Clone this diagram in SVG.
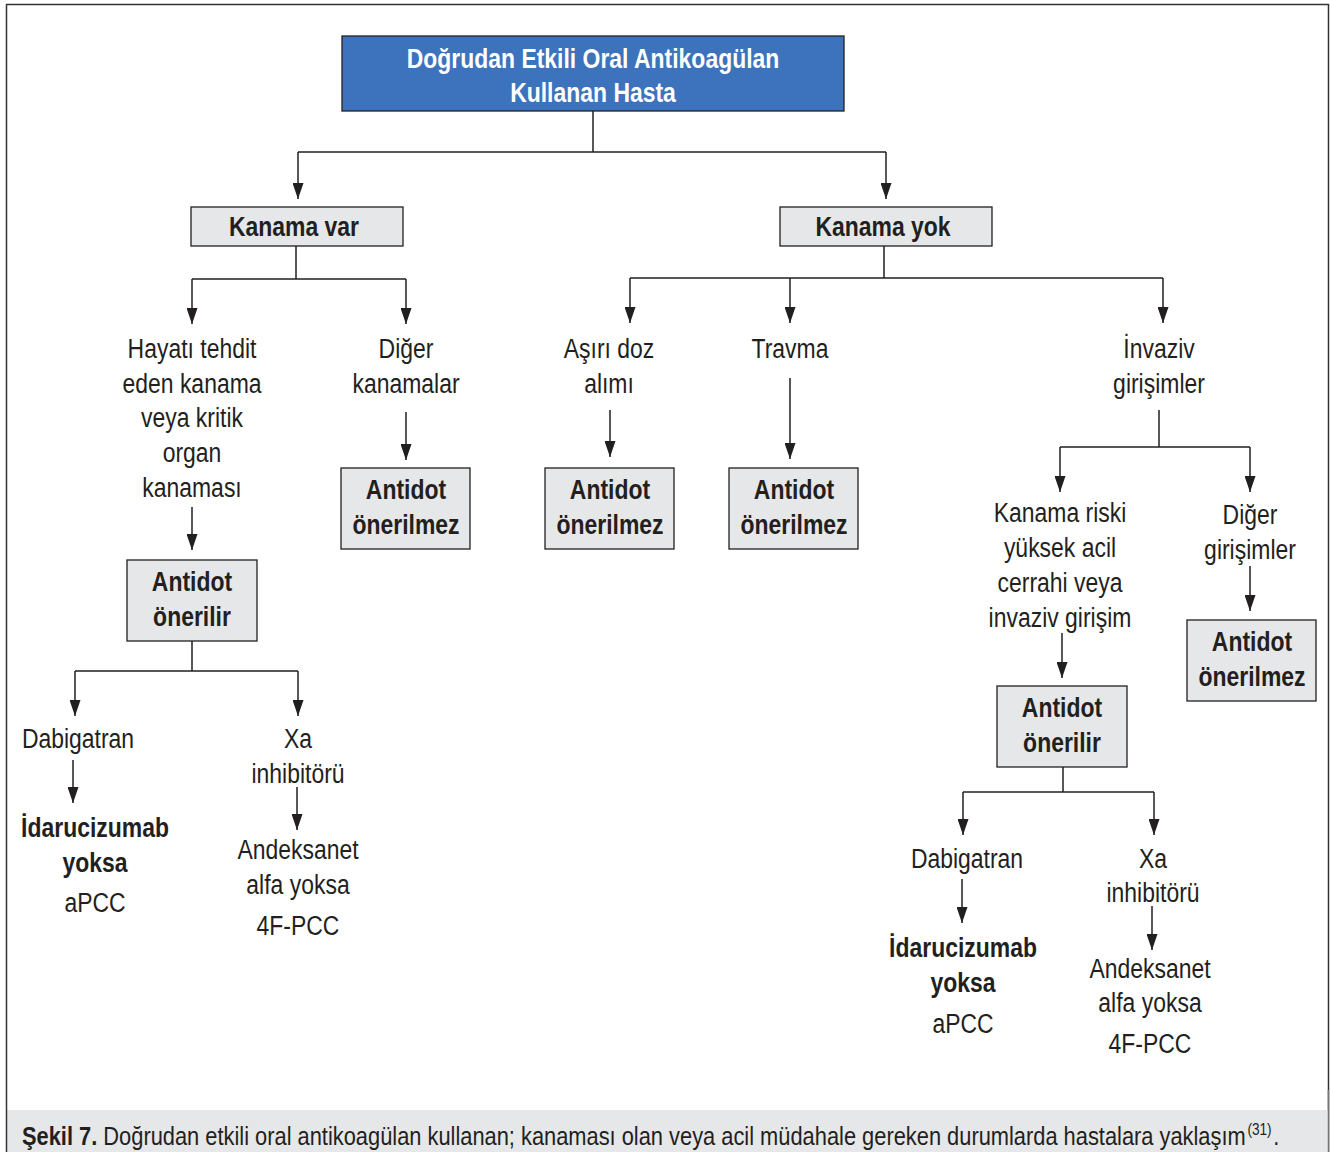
<svg xmlns="http://www.w3.org/2000/svg" width="1330" height="1152" viewBox="0 0 1330 1152">
<style>
.t{font-family:"Liberation Sans Narrow","Arial Narrow","Liberation Sans",Arial,sans-serif;fill:#231f20;text-anchor:middle}
.n{font-size:27px}
.b{font-size:27px;font-weight:bold}
.w{fill:#ffffff;font-size:27px;font-weight:bold}
.box{fill:#e6e7e8;stroke:#231f20;stroke-width:1.3}
.c{fill:none;stroke:#231f20;stroke-width:1.5}
.a{fill:none;stroke:#231f20;stroke-width:1.5;marker-end:url(#arr)}
</style>
<defs>
<marker id="arr" viewBox="0 0 16 11" refX="16" refY="5.5" markerWidth="16" markerHeight="11" markerUnits="userSpaceOnUse" orient="auto">
<path d="M0,0 L16,5.5 L0,11 z" fill="#231f20"/>
</marker>
</defs>
<rect x="0" y="0" width="1330" height="1152" fill="#ffffff"/>
<g id="frame">
<path d="M6.5,1110 V4.5 H1328.5 V1152" fill="none" stroke="#333333" stroke-width="1.5"/>
<rect x="6" y="1110" width="1322" height="42" fill="#e6e7e8"/>
<path d="M6.5,1110 V1152" stroke="#333333" stroke-width="1.5"/>
<path d="M1328.5,1090 V1152" stroke="#777777" stroke-width="1.5"/>
</g>
<g id="connectors">
<path class="c" d="M593,111 V152 M298,152 H886"/>
<path class="a" d="M298,152 V199"/>
<path class="a" d="M886,152 V199"/>
<path class="c" d="M296,246 V279 M192,279 H406"/>
<path class="a" d="M192,279 V324"/>
<path class="a" d="M406,279 V324"/>
<path class="c" d="M884,246 V278 M630,278 H1163"/>
<path class="a" d="M630,278 V323"/>
<path class="a" d="M790,278 V323"/>
<path class="a" d="M1163,278 V323"/>
<path class="a" d="M192,507 V550"/>
<path class="c" d="M192,641 V671 M75,671 H298"/>
<path class="a" d="M75,671 V716"/>
<path class="a" d="M298,671 V716"/>
<path class="a" d="M73,760 V803"/>
<path class="a" d="M297,787 V830"/>
<path class="a" d="M406,412 V460"/>
<path class="a" d="M610,410 V457"/>
<path class="a" d="M790,378 V459"/>
<path class="c" d="M1159,410 V447 M1060,447 H1250"/>
<path class="a" d="M1060,447 V492"/>
<path class="a" d="M1250,447 V492"/>
<path class="a" d="M1062,633 V678"/>
<path class="a" d="M1250,566 V611"/>
<path class="c" d="M1063,767 V792 M963,792 H1154"/>
<path class="a" d="M963,792 V835"/>
<path class="a" d="M1154,792 V835"/>
<path class="a" d="M962,879 V923"/>
<path class="a" d="M1152,906 V950"/>
</g>
<g id="root">
<rect x="342" y="36" width="502" height="75" fill="#3d72bc" stroke="#231f20" stroke-width="1.3"/>
<text class="t w" transform="matrix(.85 0 0 1 593 68)">Doğrudan Etkili Oral Antikoagülan</text>
<text class="t w" transform="matrix(.85 0 0 1 593 102)">Kullanan Hasta</text>
</g>
<g id="kanama-var">
<rect class="box" x="191" y="207" width="212" height="39"/>
<text class="t b" transform="matrix(.85 0 0 1 294 236)">Kanama var</text>
</g>
<g id="kanama-yok">
<rect class="box" x="780" y="207" width="212" height="39"/>
<text class="t b" transform="matrix(.85 0 0 1 883 236)">Kanama yok</text>
</g>
<g id="hayati">
<text class="t n" transform="matrix(.85 0 0 1 192 358)">Hayatı tehdit</text>
<text class="t n" transform="matrix(.85 0 0 1 192 393)">eden kanama</text>
<text class="t n" transform="matrix(.85 0 0 1 192 427)">veya kritik</text>
<text class="t n" transform="matrix(.85 0 0 1 192 462)">organ</text>
<text class="t n" transform="matrix(.85 0 0 1 192 497)">kanaması</text>
</g>
<g id="antidot-onerilir-1">
<rect class="box" x="127" y="560" width="130" height="81"/>
<text class="t b" transform="matrix(.85 0 0 1 192 591)">Antidot</text>
<text class="t b" transform="matrix(.85 0 0 1 192 626)">önerilir</text>
</g>
<g id="dabigatran-1">
<text class="t n" transform="matrix(.85 0 0 1 78 748)">Dabigatran</text>
</g>
<g id="idarucizumab-1">
<text class="t b" transform="matrix(.85 0 0 1 95 837)">İdarucizumab</text>
<text class="t b" transform="matrix(.85 0 0 1 95 872)">yoksa</text>
<text class="t n" transform="matrix(.85 0 0 1 95 912)">aPCC</text>
</g>
<g id="xa-1">
<text class="t n" transform="matrix(.85 0 0 1 298 748)">Xa</text>
<text class="t n" transform="matrix(.85 0 0 1 298 783)">inhibitörü</text>
</g>
<g id="andeksanet-1">
<text class="t n" transform="matrix(.85 0 0 1 298 859)">Andeksanet</text>
<text class="t n" transform="matrix(.85 0 0 1 298 894)">alfa yoksa</text>
<text class="t n" transform="matrix(.85 0 0 1 298 935)">4F-PCC</text>
</g>
<g id="diger-kanamalar">
<text class="t n" transform="matrix(.85 0 0 1 406 358)">Diğer</text>
<text class="t n" transform="matrix(.85 0 0 1 406 393)">kanamalar</text>
</g>
<g id="antidot-onerilmez-1">
<rect class="box" x="341" y="468" width="129" height="81"/>
<text class="t b" transform="matrix(.85 0 0 1 406 499)">Antidot</text>
<text class="t b" transform="matrix(.85 0 0 1 406 534)">önerilmez</text>
</g>
<g id="asiri-doz">
<text class="t n" transform="matrix(.85 0 0 1 609 358)">Aşırı doz</text>
<text class="t n" transform="matrix(.85 0 0 1 609 393)">alımı</text>
</g>
<g id="antidot-onerilmez-2">
<rect class="box" x="545" y="468" width="129" height="81"/>
<text class="t b" transform="matrix(.85 0 0 1 610 499)">Antidot</text>
<text class="t b" transform="matrix(.85 0 0 1 610 534)">önerilmez</text>
</g>
<g id="travma">
<text class="t n" transform="matrix(.85 0 0 1 790 358)">Travma</text>
</g>
<g id="antidot-onerilmez-3">
<rect class="box" x="729" y="468" width="129" height="81"/>
<text class="t b" transform="matrix(.85 0 0 1 794 499)">Antidot</text>
<text class="t b" transform="matrix(.85 0 0 1 794 534)">önerilmez</text>
</g>
<g id="invaziv">
<text class="t n" transform="matrix(.85 0 0 1 1159 358)">İnvaziv</text>
<text class="t n" transform="matrix(.85 0 0 1 1159 393)">girişimler</text>
</g>
<g id="kanama-riski">
<text class="t n" transform="matrix(.85 0 0 1 1060 522)">Kanama riski</text>
<text class="t n" transform="matrix(.85 0 0 1 1060 557)">yüksek acil</text>
<text class="t n" transform="matrix(.85 0 0 1 1060 592)">cerrahi veya</text>
<text class="t n" transform="matrix(.85 0 0 1 1060 627)">invaziv girişim</text>
</g>
<g id="diger-girisimler">
<text class="t n" transform="matrix(.85 0 0 1 1250 524)">Diğer</text>
<text class="t n" transform="matrix(.85 0 0 1 1250 559)">girişimler</text>
</g>
<g id="antidot-onerilmez-4">
<rect class="box" x="1187" y="620" width="129" height="81"/>
<text class="t b" transform="matrix(.85 0 0 1 1252 651)">Antidot</text>
<text class="t b" transform="matrix(.85 0 0 1 1252 686)">önerilmez</text>
</g>
<g id="antidot-onerilir-2">
<rect class="box" x="997" y="686" width="130" height="81"/>
<text class="t b" transform="matrix(.85 0 0 1 1062 717)">Antidot</text>
<text class="t b" transform="matrix(.85 0 0 1 1062 752)">önerilir</text>
</g>
<g id="dabigatran-2">
<text class="t n" transform="matrix(.85 0 0 1 967 868)">Dabigatran</text>
</g>
<g id="idarucizumab-2">
<text class="t b" transform="matrix(.85 0 0 1 963 957)">İdarucizumab</text>
<text class="t b" transform="matrix(.85 0 0 1 963 992)">yoksa</text>
<text class="t n" transform="matrix(.85 0 0 1 963 1033)">aPCC</text>
</g>
<g id="xa-2">
<text class="t n" transform="matrix(.85 0 0 1 1153 868)">Xa</text>
<text class="t n" transform="matrix(.85 0 0 1 1153 902)">inhibitörü</text>
</g>
<g id="andeksanet-2">
<text class="t n" transform="matrix(.85 0 0 1 1150 978)">Andeksanet</text>
<text class="t n" transform="matrix(.85 0 0 1 1150 1012)">alfa yoksa</text>
<text class="t n" transform="matrix(.85 0 0 1 1150 1053)">4F-PCC</text>
</g>
<g id="caption">
<text transform="matrix(.85 0 0 1 22 1145)" style="font-family:'Liberation Sans Narrow','Arial Narrow','Liberation Sans',Arial,sans-serif;font-size:25.7px;fill:#231f20"><tspan font-weight="bold">Şekil 7.</tspan> Doğrudan etkili oral antikoagülan kullanan; kanaması olan veya acil müdahale gereken durumlarda hastalara yaklaşım<tspan font-size="16" dy="-10" dx="2">(31)</tspan><tspan dy="10" dx="2">.</tspan></text>
</g>
</svg>
